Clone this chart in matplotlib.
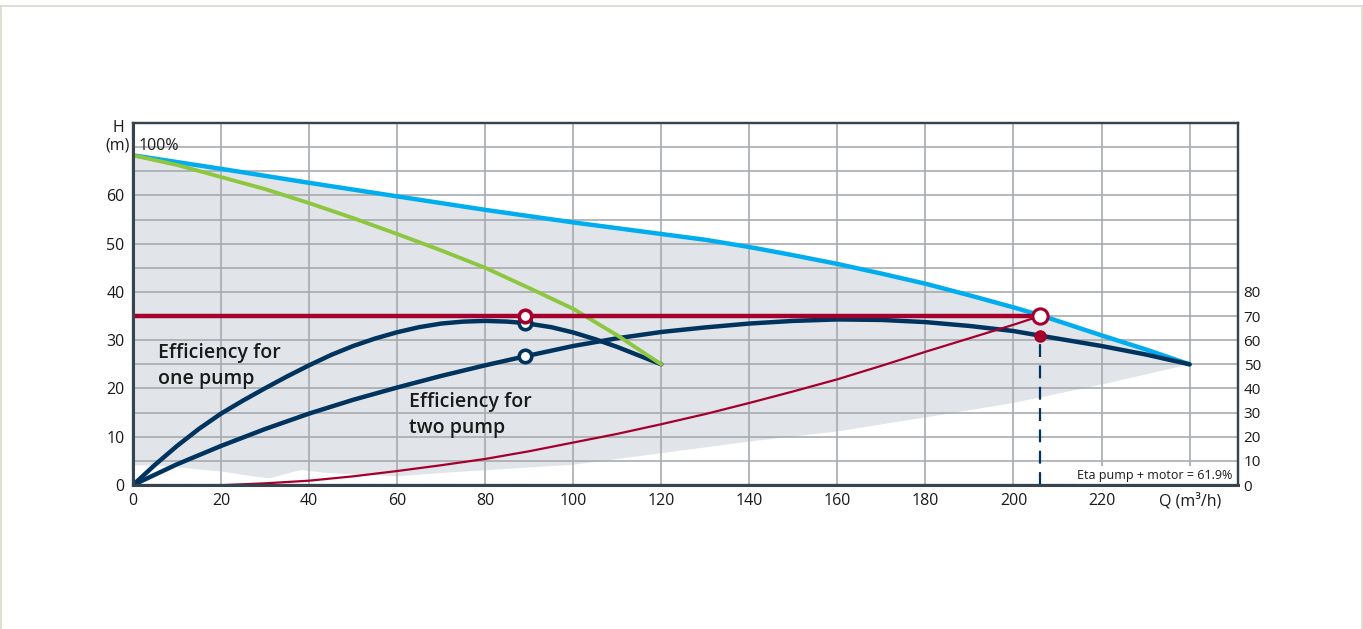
"""Pump curve chart: head, efficiency and system curve."""
import matplotlib.pyplot as plt
from matplotlib.lines import Line2D

plt.rcParams['font.family'] = ['Open Sans', 'DejaVu Sans']

# Pump head at full speed (m)
q_max = [0, 20, 40, 60, 80, 100, 120, 130, 140, 150, 160, 170, 180, 190,
         200, 206, 220, 230, 240]
h_max = [68.3, 65.5, 62.6, 59.8, 57.0, 54.4, 52.0, 50.8, 49.3, 47.6, 45.8,
         43.8, 41.7, 39.3, 36.8, 35.2, 31.0, 28.1, 25.0]

# Single pump head (m)
q_one = [0, 10, 20, 30, 40, 50, 60, 70, 80, 90, 100, 110, 120]
h_one = [68.3, 66.3, 63.8, 61.3, 58.4, 55.3, 52.0, 48.6, 45.0, 40.8, 36.5,
         31.0, 25.0]

# Lower edge of the operating range (m)
q_low = [0, 6, 20, 28, 31, 38, 44, 60, 70, 100, 120, 140, 160, 180, 200,
         220, 240]
h_low = [4.1, 4.0, 2.8, 1.7, 1.4, 3.1, 2.5, 1.8, 2.5, 4.2, 6.6, 9.0, 11.1,
         14.0, 17.0, 20.8, 25.0]

# Efficiency for one pump (%)
q_eff1 = [0, 5, 10, 15, 20, 25, 30, 35, 40, 45, 50, 55, 60, 65, 70, 75, 80,
          85, 89, 95, 100, 105, 110, 115, 120]
eff1 = [0, 8.4, 16.2, 23.3, 29.6, 35.0, 40.1, 45.0, 49.6, 53.9, 57.6, 60.7,
        63.3, 65.4, 66.9, 67.7, 68.0, 67.7, 67.1, 65.4, 63.2, 60.4, 57.2,
        53.6, 50.0]

# Efficiency for two pumps (%)
q_eff2 = [0, 10, 20, 30, 40, 50, 60, 70, 80, 89, 100, 110, 120, 130, 140,
          150, 160, 170, 180, 190, 200, 206, 220, 230, 240]
eff2 = [0, 8.6, 16.2, 23.2, 29.6, 35.3, 40.4, 45.2, 49.6, 53.3, 57.6, 60.8,
        63.4, 65.3, 66.9, 68.0, 68.6, 68.4, 67.5, 65.9, 63.8, 61.9, 57.6,
        54.1, 50.0]

# System curve (m)
q_sys = [21, 30, 40, 50, 60, 70, 80, 90, 100, 110, 120, 130, 140, 150, 160,
         170, 180, 190, 200, 206]
h_sys = [0, 0.35, 0.9, 1.8, 2.9, 4.1, 5.4, 7.0, 8.8, 10.6, 12.6, 14.7, 17.0,
         19.4, 21.9, 24.7, 27.6, 30.4, 33.2, 35.0]

# Operating points
q_op, h_op, eff_op = 206, 35, 61.9
q_ref, eff1_ref, eff2_ref = 89, 67.1, 53.3

x_ticks = list(range(0, 221, 20))
y_ticks = list(range(0, 61, 10))
eff_ticks = list(range(0, 81, 10))

NAVY = '#00345f'
RED = '#a5002d'
LBLUE = '#00adef'
GREEN = '#8dc63f'
FILL = '#e1e5e9'
GRID = '#a7abae'
SPINE = '#37434d'
TEXT = '#1a1a1a'

fig = plt.figure(figsize=(13.63, 6.29), dpi=100)
ax = fig.add_axes([0.0976, 0.2289, 0.8107, 0.5756])
ax2 = ax.twinx()

ax.set_xlim(0, 251)
ax.set_ylim(0, 75)
ax2.set_ylim(0, 150)

# grid: every 20 m3/h and every 5 m
ax.set_xticks(x_ticks)
ax.set_yticks(y_ticks)
ax.set_xticks(range(0, 241, 20), minor=True)
ax.set_yticks(range(0, 76, 5), minor=True)
ax.grid(which='both', color=GRID, lw=1.2)
ax2.set_yticks(eff_ticks)
ax.tick_params(which='both', length=0, labelsize=11.5, colors=TEXT, pad=6)
ax2.tick_params(length=0, labelsize=11, colors=TEXT, pad=4)
for a in (ax, ax2):
    for s in a.spines.values():
        s.set_color(SPINE)
        s.set_linewidth(1.6)
ax.spines['left'].set_linewidth(2.2)
ax.spines['bottom'].set_linewidth(2.2)

# operating range: under the full speed curve, above the lower edge
ax.fill(q_max + q_low[::-1], h_max + h_low[::-1], color=FILL, lw=0,
        zorder=1)

ax.plot(q_max, h_max, color=LBLUE, lw=3.2, zorder=2, solid_capstyle='round')
ax.plot(q_eff1, eff1, color=NAVY, lw=3.2, zorder=2.1,
        transform=ax2.transData, solid_capstyle='round')
ax.plot(q_eff2, eff2, color=NAVY, lw=3.2, zorder=2.1,
        transform=ax2.transData, solid_capstyle='round')
ax.plot(q_one, h_one, color=GREEN, lw=2.8, zorder=2.2, solid_capstyle='round')
ax.plot(q_sys, h_sys, color=RED, lw=1.6, zorder=2.5)
ax.plot([0, q_op], [h_op, h_op], color=RED, lw=3.2, zorder=2.5)

# duty point drop line
ax.plot([q_op, q_op], [0, eff_op], color=NAVY, lw=1.6,
        dashes=(5.8, 3.8), zorder=2.4, transform=ax2.transData)

ax.plot(q_ref, eff1_ref, 'o', ms=9, mfc='white', mec=NAVY, mew=2.6,
        zorder=3, transform=ax2.transData)
ax.plot(q_ref, eff2_ref, 'o', ms=9, mfc='white', mec=NAVY, mew=2.6,
        zorder=3, transform=ax2.transData)
ax.plot(q_ref, h_op, 'o', ms=9, mfc='white', mec=RED, mew=2.6, zorder=3.1)
ax.plot(q_op, h_op, 'o', ms=11, mfc='white', mec=RED, mew=2.2, zorder=3.1)
ax.plot(q_op, eff_op, 'o', ms=8, color=RED, zorder=3.1,
        transform=ax2.transData)

ax.text(5.7, 24.7, 'Efficiency for\none pump', fontsize=14,
        fontweight='semibold', color=TEXT, ha='left', va='center',
        linespacing=1.4, zorder=4)
ax.text(62.7, 14.6, 'Efficiency for\ntwo pump', fontsize=14,
        fontweight='semibold', color=TEXT, ha='left', va='center',
        linespacing=1.4, zorder=4)

ax.text(-0.0136, 0.962, 'H\n(m)', transform=ax.transAxes, fontsize=11.5,
        color=TEXT, ha='center', va='center', linespacing=1.1)
ax.text(0.0054, 0.936, '100%', transform=ax.transAxes, fontsize=11.5,
        color=TEXT, ha='left', va='center')
ax.text(0.957, -0.044, 'Q (m³/h)', transform=ax.transAxes, fontsize=11.5,
        color=TEXT, ha='center', va='center')
ax.text(0.9946, 0.0276, 'Eta pump + motor = 61.9%', transform=ax.transAxes,
        fontsize=9, color=TEXT, ha='right', va='center', zorder=4,
        bbox=dict(facecolor='white', edgecolor='none', pad=1.5))

# page frame
frame = dict(color='#d9d9cf', lw=1.2, transform=fig.transFigure)
fig.add_artist(Line2D([0.001, 0.999], [0.990, 0.990], **frame))
fig.add_artist(Line2D([0.001, 0.001], [0.0, 0.990], **frame))
fig.add_artist(Line2D([0.999, 0.999], [0.0, 0.990], **frame))

fig.savefig('out.png', dpi=100)
